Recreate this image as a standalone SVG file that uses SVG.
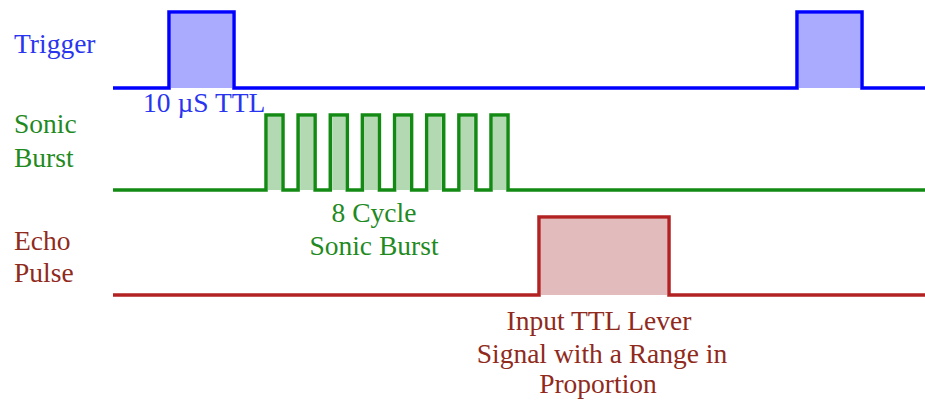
<svg xmlns="http://www.w3.org/2000/svg" width="925" height="407" viewBox="0 0 925 407">
<style>
text{font-family:"Liberation Serif","Times New Roman",serif;font-size:27.5px}
.line{fill:none;stroke-width:3.5;stroke-linejoin:miter}
.tb{fill:#2a35f0}.tg{fill:#1f8a1f}.tr{fill:#8f2a1c}
</style>
<rect width="925" height="407" fill="#ffffff"/>
<g id="trigger">
<rect x="171" y="14" width="61" height="74" fill="#aaaaff"/>
<rect x="799" y="14" width="61" height="74" fill="#aaaaff"/>
<path class="line" stroke="#0000ff" d="M113,88 H169 V12 H234 V88 H797 V12 H862 V88 H925"/>
<text class="tb" x="14" y="53">Trigger</text>
<text class="tb" x="143" y="112">10 µS TTL</text>
</g>
<g id="sonic-burst">
<g fill="#b3d9b3">
<rect x="268" y="117" width="13" height="73"/>
<rect x="300.1" y="117" width="13" height="73"/>
<rect x="332.3" y="117" width="13" height="73"/>
<rect x="364.4" y="117" width="13" height="73"/>
<rect x="396.6" y="117" width="13" height="73"/>
<rect x="428.7" y="117" width="13" height="73"/>
<rect x="460.9" y="117" width="13" height="73"/>
<rect x="493" y="117" width="13" height="73"/>
</g>
<path class="line" stroke="#138a13" d="M113,190 H266 V115 H283 V190 H298.1 V115 H315.1 V190 H330.3 V115 H347.3 V190 H362.4 V115 H379.4 V190 H394.6 V115 H411.6 V190 H426.7 V115 H443.7 V190 H458.9 V115 H475.9 V190 H491 V115 H508 V190 H925"/>
<text class="tg" x="14" y="133">Sonic</text>
<text class="tg" x="14" y="167">Burst</text>
<text class="tg" x="374" y="222" text-anchor="middle">8 Cycle</text>
<text class="tg" x="374" y="255" text-anchor="middle">Sonic Burst</text>
</g>
<g id="echo-pulse">
<rect x="541" y="219" width="126" height="76" fill="#e2bcbc"/>
<path class="line" stroke="#b22222" d="M113,295 H539 V217 H669 V295 H925"/>
<text class="tr" x="14" y="250">Echo</text>
<text class="tr" x="14" y="282">Pulse</text>
<text class="tr" x="599" y="330" text-anchor="middle">Input TTL Lever</text>
<text class="tr" x="602" y="363" text-anchor="middle">Signal with a Range in</text>
<text class="tr" x="598" y="393" text-anchor="middle">Proportion</text>
</g>
<g id="connectors"/>
</svg>
